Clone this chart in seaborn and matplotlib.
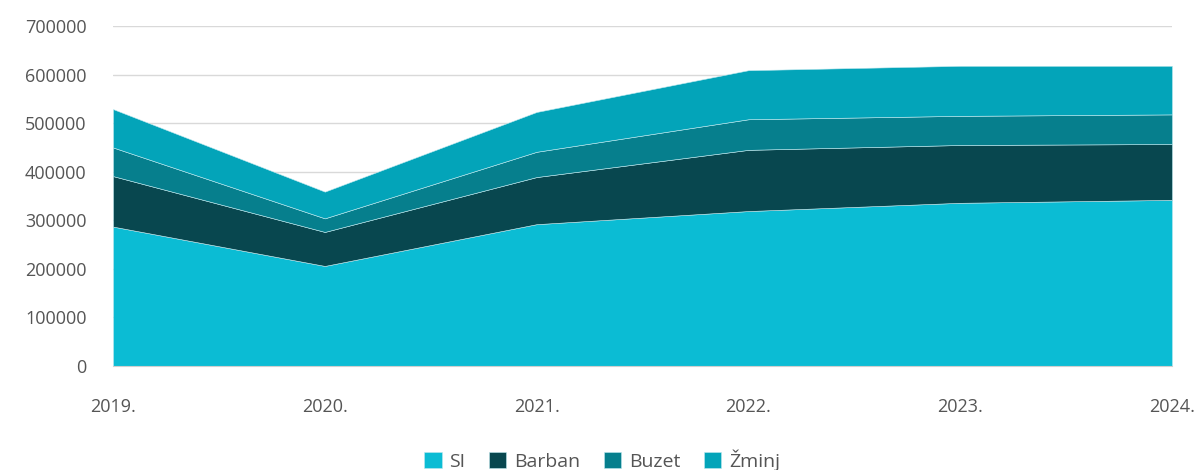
import numpy as np
import pandas as pd
import matplotlib
matplotlib.use("Agg")
import matplotlib.pyplot as plt
import seaborn as sns

years = [2019, 2020, 2021, 2022, 2023, 2024]
year_labels = ["2019.", "2020.", "2021.", "2022.", "2023.", "2024."]
series_names = ["SI", "Barban", "Buzet", "Žminj"]
si = [287000, 206000, 292000, 319000, 336000, 342000]
barban = [104000, 70000, 97000, 126000, 119000, 115000]
buzet = [59000, 28000, 52000, 63000, 60000, 61000]
zminj = [79000, 55000, 82000, 101000, 103000, 100000]
colors = ["#0bbcd4", "#08474f", "#067f8d", "#03a4b9"]

df = pd.DataFrame({"year": years, "SI": si, "Barban": barban, "Buzet": buzet, "Žminj": zminj})

sns.set_style("white")
plt.rcParams['font.family'] = ['Open Sans', 'DejaVu Sans']

fig = plt.figure(figsize=(12.04, 4.70), dpi=100)
ax = fig.add_axes([113/1204, 1 - 366/470, (1172 - 113)/1204, 340/470])

ax.set_axisbelow(True)
ax.yaxis.grid(True, color="#d9d9d9", linewidth=1)
ax.stackplot(df["year"], [df[n] for n in series_names], labels=series_names,
             colors=colors, edgecolor="#bfe9ef", linewidth=0.4, zorder=2)

ax.set_xlim(2019, 2024)
ax.set_ylim(0, 700000)
ax.set_yticks(np.arange(0, 700001, 100000))
ax.set_yticklabels([str(v) for v in range(0, 700001, 100000)])
ax.set_xticks(years)
ax.set_xticklabels(year_labels)
ax.tick_params(axis="y", length=0, pad=19, labelsize=13, labelcolor="#555555")
ax.tick_params(axis="x", length=6, color="#d0d0d0", pad=17, labelsize=13, labelcolor="#555555")

for s in ["top", "right", "left"]:
    ax.spines[s].set_visible(False)
ax.spines["bottom"].set_color("#d0d0d0")

handles, labels = ax.get_legend_handles_labels()
fig.legend(handles, labels, loc="center", bbox_to_anchor=(0.5, 10/470), ncol=4,
           frameon=False, fontsize=14, labelcolor="#555555", handlelength=0.9,
           handleheight=0.9, handletextpad=0.4, columnspacing=1.2)

fig.savefig("out.png", dpi=100)
